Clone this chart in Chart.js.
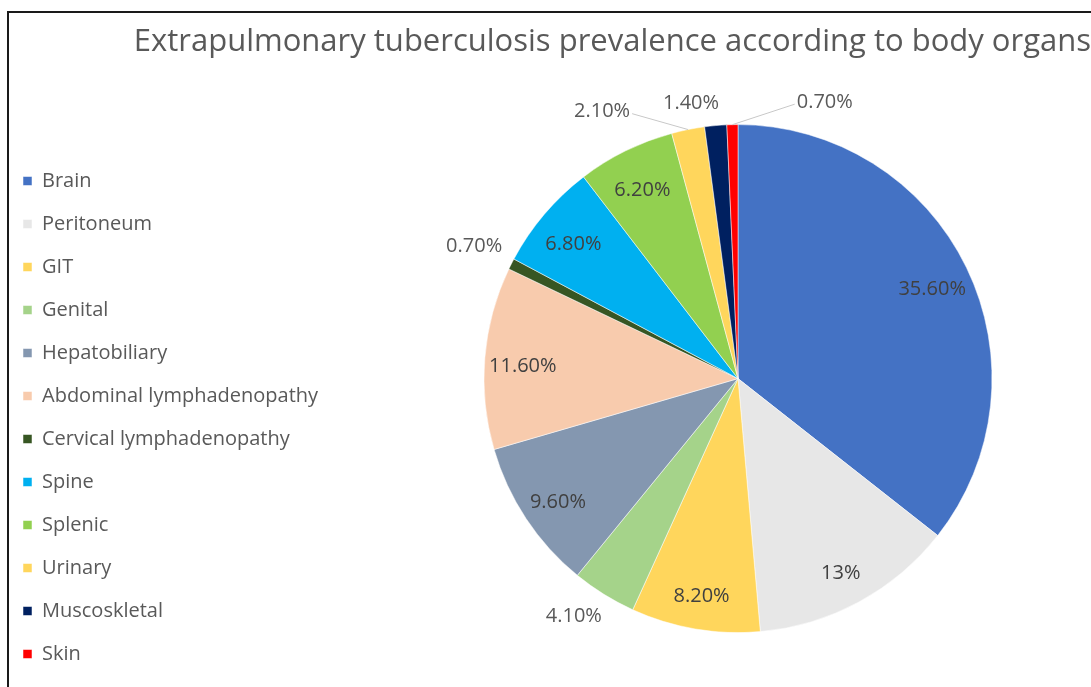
<!DOCTYPE html>
<html>
<head>
<meta charset="utf-8">
<script src="https://cdn.jsdelivr.net/npm/chart.js@4/dist/chart.umd.min.js"></script>
<style>
  html, body { margin: 0; padding: 0; background: #fff; overflow: hidden; }
  #wrap { position: relative; width: 1091px; height: 687px; }
  #frameTop { position: absolute; left: 7px; top: 11px; width: 1084px; height: 2px; background: #1a1a1a; }
  #frameLeft { position: absolute; left: 7px; top: 11px; width: 2px; height: 676px; background: #1a1a1a; }
</style>
</head>
<body>
<div id="wrap">
  <canvas id="pie" width="1091" height="687"></canvas>
  <div id="frameTop"></div>
  <div id="frameLeft"></div>
</div>
<script>
// organs and their share of cases (%)
const organs = ['Brain', 'Peritoneum', 'GIT', 'Genital', 'Hepatobiliary', 'Abdominal lymphadenopathy',
    'Cervical lymphadenopathy', 'Spine', 'Splenic', 'Urinary', 'Muscoskletal', 'Skin'];
const prevalence = [35.6, 13, 8.2, 4.1, 9.6, 11.6, 0.7, 6.8, 6.2, 2.1, 1.4, 0.7];
const sliceColors = ['#4472C4', '#E7E7E7', '#FFD65C', '#A5D38A', '#8497B0', '#F8CBAD',
    '#375623', '#00B0F0', '#92D050', '#FFD65C', '#002060', '#FF0000'];

// small slices get their label outside; a few are pushed apart like Excel did
const labelNudge = { 3: [-14, -4], 6: [-10, -4], 9: [-80, 12, 'right'], 10: [-22, 8], 11: [93, 8, 'left'] };

function pctText(v) {
    return Number.isInteger(v) ? v + '%' : v.toFixed(2) + '%';
}

const sliceLabels = {
    id: 'sliceLabels',
    afterDatasetsDraw(chart) {
        const ctx = chart.ctx;
        const arcs = chart.getDatasetMeta(0).data;
        ctx.save();
        ctx.font = '20px "Open Sans"';
        ctx.textAlign = 'center';
        ctx.textBaseline = 'middle';
        arcs.forEach((arc, i) => {
            const v = prevalence[i];
            const mid = (arc.startAngle + arc.endAngle) / 2;
            const R = arc.outerRadius;
            const inside = v >= 5;
            const f = inside ? 0.85 : 1.12;
            let x = arc.x + Math.cos(mid) * R * f;
            let y = arc.y + Math.sin(mid) * R * f + (inside ? 5 : 0);
            const nudge = labelNudge[i];
            if (nudge) { x += nudge[0]; y += nudge[1]; }
            const txt = pctText(v);
            ctx.fillStyle = inside ? '#404040' : '#595959';
            ctx.fillText(txt, x, y);
            if (nudge && nudge[2]) {
                const w = ctx.measureText(txt).width;
                const ex = arc.x + Math.cos(mid) * R;
                const ey = arc.y + Math.sin(mid) * R;
                const sx = nudge[2] === 'right' ? x + w / 2 + 2 : x - w / 2 - 2;
                ctx.strokeStyle = '#c8c8c8';
                ctx.lineWidth = 1;
                ctx.beginPath();
                ctx.moveTo(sx, y + 2);
                ctx.lineTo(ex, ey);
                ctx.stroke();
            }
        });
        ctx.restore();
    }
};

// make the left legend as wide as the space left of the pie
const wideLegend = {
    id: 'wideLegend',
    beforeInit(chart) {
        const fit = chart.legend.fit;
        chart.legend.fit = function () {
            fit.bind(chart.legend)();
            this.width = 385;
        };
    }
};

new Chart(document.getElementById('pie'), {
    type: 'pie',
    data: {
        labels: organs,
        datasets: [{
            data: prevalence,
            backgroundColor: sliceColors,
            borderColor: 'rgba(255,255,255,0.5)',
            borderWidth: 1
        }]
    },
    options: {
        responsive: false,
        animation: false,
        radius: 254,
        layout: { padding: 0 },
        plugins: {
            title: {
                display: true,
                text: 'Extrapulmonary tuberculosis prevalence according to body organs',
                align: 'end',
                color: '#595959',
                font: { family: 'Open Sans', size: 31, weight: 'normal', lineHeight: 1.2 },
                padding: { top: 24, bottom: 9 }
            },
            legend: {
                position: 'left',
                align: 'end',
                labels: {
                    boxWidth: 9,
                    boxHeight: 9,
                    padding: 23,
                    color: '#595959',
                    font: { family: 'Open Sans', size: 20 }
                }
            },
            tooltip: { enabled: false }
        }
    },
    plugins: [wideLegend, sliceLabels]
});
</script>
</body>
</html>
